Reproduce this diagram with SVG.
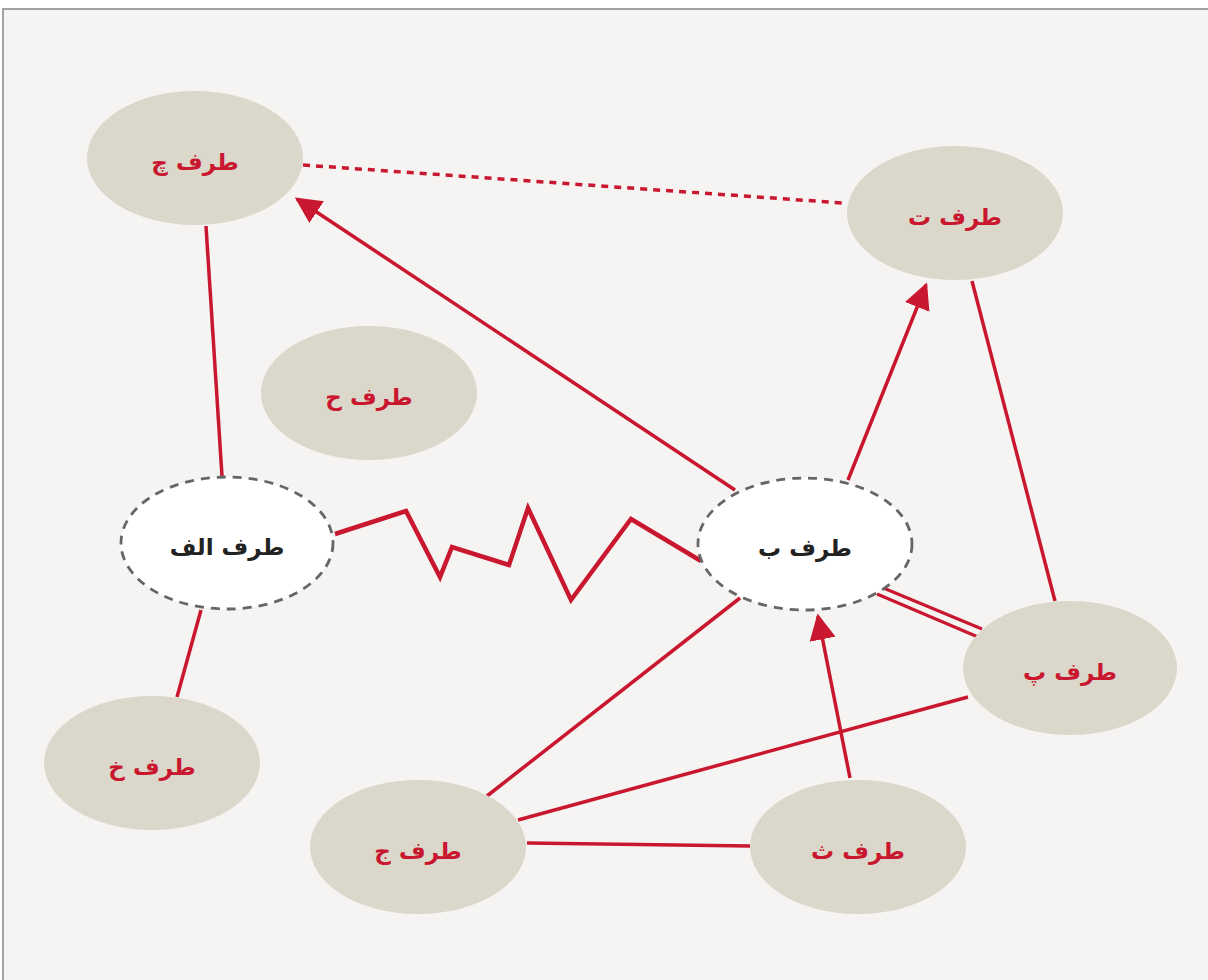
<svg xmlns="http://www.w3.org/2000/svg" width="1208" height="980" viewBox="0 0 1208 980">
  <style>
    .bg { fill: #f6f4f2; stroke: #a3a0a2; stroke-width: 2; }
    .party { fill: #dbd7cb; }
    .focus { fill: #ffffff; stroke: #666666; stroke-width: 2.8; stroke-dasharray: 9 7; }
    .lbl { font-family: "DejaVu Sans", "Noto Sans", sans-serif; font-weight: bold; font-size: 23px; text-anchor: middle; dominant-baseline: central; }
    .lbl-red { fill: #c8172e; }
    .lbl-dark { fill: #222222; }
    .ln { fill: none; stroke: #c8172e; stroke-width: 3.5; stroke-linecap: butt; }
    .dot { stroke-dasharray: 7 6; }
    .zig { stroke-width: 4.5; stroke-linejoin: miter; }
    .arr { marker-end: url(#head); }
  </style>
  <defs>
    <marker id="head" viewBox="0 0 10 10" refX="9" refY="5" markerWidth="7.5" markerHeight="7.5" orient="auto-start-reverse">
      <path d="M0,0 L10,5 L0,10 z" fill="#c8172e"/>
    </marker>
  </defs>

  <!-- frame -->
  <rect class="bg" x="3" y="9" width="1220" height="990"/>

  <!-- connectors -->
  <g id="connectors">
    <line class="ln dot" x1="303" y1="165" x2="843" y2="203"/>
    <line class="ln arr" x1="735" y1="490" x2="297" y2="199"/>
    <line class="ln" x1="206" y1="226" x2="222" y2="476"/>
    <line class="ln arr" x1="848" y1="480" x2="926" y2="285"/>
    <line class="ln" x1="972" y1="281" x2="1055" y2="601"/>
    <polyline class="ln zig" points="335,534 406,511 440,577 452,547 509,565 528,508 571,600 631,519 701,561"/>
    <line class="ln" x1="881" y1="587" x2="982" y2="629" style="stroke-width:3"/>
    <line class="ln" x1="877" y1="594" x2="978" y2="637" style="stroke-width:3"/>
    <line class="ln" x1="740" y1="598" x2="487" y2="796"/>
    <line class="ln" x1="968" y1="697" x2="518" y2="820"/>
    <line class="ln" x1="527" y1="843" x2="750" y2="846"/>
    <line class="ln arr" x1="850" y1="778" x2="818" y2="616"/>
    <line class="ln" x1="201" y1="610" x2="177" y2="697"/>
  </g>

  <!-- nodes -->
  <g id="node-che">
    <ellipse class="party" cx="195" cy="158" rx="108" ry="67"/>
    <text class="lbl lbl-red" x="195" y="162">طرف چ</text>
  </g>
  <g id="node-te">
    <ellipse class="party" cx="955" cy="213" rx="108" ry="67"/>
    <text class="lbl lbl-red" x="955" y="217">طرف ت</text>
  </g>
  <g id="node-he">
    <ellipse class="party" cx="369" cy="393" rx="108" ry="67"/>
    <text class="lbl lbl-red" x="369" y="397">طرف ح</text>
  </g>
  <g id="node-alef">
    <ellipse class="focus" cx="227" cy="543" rx="106" ry="66"/>
    <text class="lbl lbl-dark" x="227" y="547">طرف الف</text>
  </g>
  <g id="node-be">
    <ellipse class="focus" cx="805" cy="544" rx="107" ry="66"/>
    <text class="lbl lbl-dark" x="805" y="548">طرف ب</text>
  </g>
  <g id="node-pe">
    <ellipse class="party" cx="1070" cy="668" rx="107" ry="67"/>
    <text class="lbl lbl-red" x="1070" y="672">طرف پ</text>
  </g>
  <g id="node-khe">
    <ellipse class="party" cx="152" cy="763" rx="108" ry="67"/>
    <text class="lbl lbl-red" x="152" y="767">طرف خ</text>
  </g>
  <g id="node-jim">
    <ellipse class="party" cx="418" cy="847" rx="108" ry="67"/>
    <text class="lbl lbl-red" x="418" y="851">طرف ج</text>
  </g>
  <g id="node-se">
    <ellipse class="party" cx="858" cy="847" rx="108" ry="67"/>
    <text class="lbl lbl-red" x="858" y="851">طرف ث</text>
  </g>
</svg>
